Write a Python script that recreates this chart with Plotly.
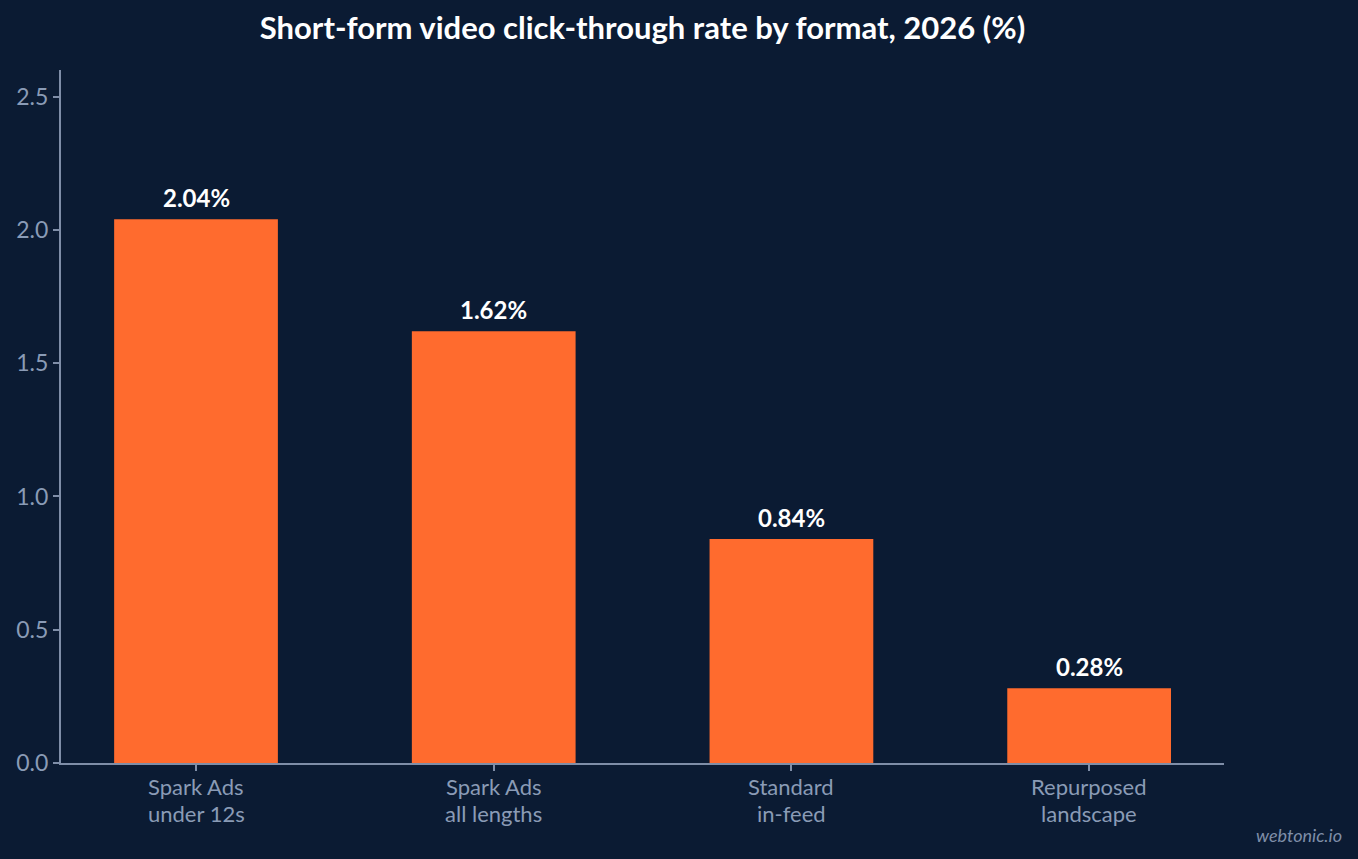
import plotly.graph_objects as go

categories = ["Spark Ads<br>under 12s", "Spark Ads<br>all lengths", "Standard<br>in-feed", "Repurposed<br>landscape"]
values = [2.04, 1.62, 0.84, 0.28]
labels = ["2.04%", "1.62%", "0.84%", "0.28%"]
y_ticks = [0.0, 0.5, 1.0, 1.5, 2.0, 2.5]

BG = "#0b1b33"
ORANGE = "#ff6b2e"
AXIS = "#7f8ea8"
TICKTXT = "#8a9bb6"
FONT = "Lato, 'Open Sans', sans-serif"

fig = go.Figure(go.Bar(
    x=categories, y=values,
    marker=dict(color=ORANGE, line=dict(width=0)), width=0.55,
    hoverinfo="skip",
))

fig.update_layout(
    width=1358, height=859,
    paper_bgcolor=BG, plot_bgcolor=BG,
    margin=dict(l=61, r=134, t=70, b=96),
    font=dict(family=FONT, color=TICKTXT, size=23),
    title=dict(text="<b>Short-form video click-through rate by format, 2026 (%)</b>",
               x=0.5, xref="paper", xanchor="center", y=0.967, yref="container",
               yanchor="middle",
               font=dict(family=FONT, size=31, color="#ffffff")),
    showlegend=False,
)
fig.update_xaxes(
    range=[-0.4535, 3.453], showgrid=False, zeroline=False,
    showline=True, linecolor=AXIS, linewidth=2,
    ticks="outside", ticklen=6, tickcolor=AXIS, tickwidth=2,
    showticklabels=False,
)
fig.update_yaxes(
    range=[0, 2.6], showgrid=False, zeroline=False,
    showline=True, linecolor=AXIS, linewidth=2,
    ticks="outside", ticklen=6, tickcolor=AXIS, tickwidth=2,
    tickvals=y_ticks, ticktext=[f"{v:.1f}" for v in y_ticks],
    tickfont=dict(family=FONT, size=23, color=TICKTXT),
)

# category labels (two lines, tighter line spacing than plotly's default)
for cat in categories:
    for k, line in enumerate(cat.split("<br>")):
        fig.add_annotation(
            text=line, x=cat, xref="x", yref="paper", y=0,
            yanchor="middle", xanchor="center", yshift=-23 - 27 * k,
            showarrow=False, font=dict(family=FONT, size=22, color=TICKTXT),
        )

# value labels above the bars
for cat, v, lab in zip(categories, values, labels):
    fig.add_annotation(
        text=f"<b>{lab}</b>", x=cat, y=v, xref="x", yref="y",
        yanchor="middle", xanchor="center", yshift=22, showarrow=False,
        font=dict(family=FONT, size=24, color="#ffffff"),
    )

fig.add_annotation(
    text="<i>webtonic.io</i>", xref="paper", yref="paper", x=1.0, y=0,
    xshift=120, yshift=-72, xanchor="right", yanchor="middle", showarrow=False,
    font=dict(family=FONT, size=18, color="#7f8ea8"),
)

fig.write_html(
    "out.html",
    config={"displayModeBar": False},
    post_script="document.body.style.margin='0';document.body.style.background='#0b1b33';",
)
